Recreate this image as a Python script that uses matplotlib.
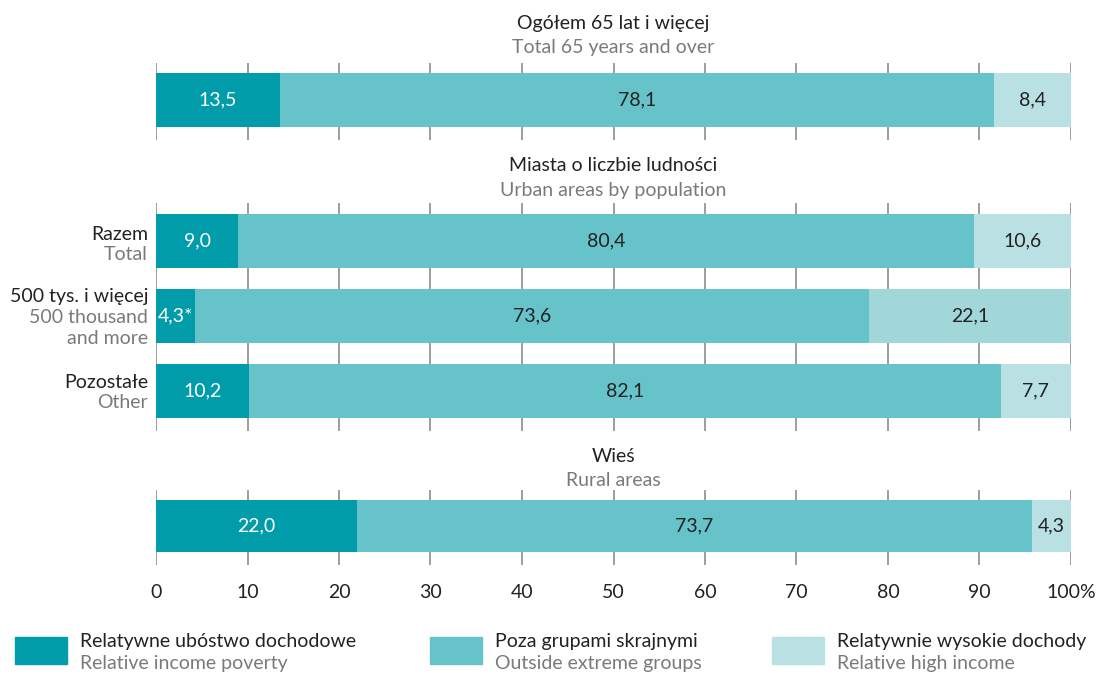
import matplotlib.pyplot as plt

# ---------------- DATA ----------------
TOTAL_LABEL = ("Ogółem 65 lat i więcej", "Total 65 years and over")
URBAN_LABEL = ("Miasta o liczbie ludności", "Urban areas by population")
RURAL_LABEL = ("Wieś", "Rural areas")

urban_rows_pl = ["Razem", "500 tys. i więcej", "Pozostałe"]
urban_rows_en = ["Total", "500 thousand\nand more", "Other"]

poverty_total = [13.5]
middle_total = [78.1]
high_total = [8.4]

poverty_urban = [9.0, 4.3, 10.2]
middle_urban = [80.4, 73.6, 82.1]
high_urban = [10.6, 22.1, 7.7]

poverty_rural = [22.0]
middle_rural = [73.7]
high_rural = [4.3]

value_notes = {(1, 1): "*"}  # panel, row -> suffix (4,3*)

series_pl = ["Relatywne ubóstwo dochodowe", "Poza grupami skrajnymi",
             "Relatywnie wysokie dochody"]
series_en = ["Relative income poverty", "Outside extreme groups",
             "Relative high income"]

x_ticks = list(range(0, 101, 10))
x_ticklabels = [str(t) for t in x_ticks[:-1]] + ["100%"]
# --------------------------------------

W, H = 1105, 674
COLORS = ["#019CA9", "#67C3CA", "#B9E1E3"]
ODD_HIGH = "#A2D7DA"
GRAY = "#7A7A7A"
DARK = "#222222"
FONT = "Lato"
FS = 14

plt.rcParams["font.family"] = [FONT, "DejaVu Sans"]

fig = plt.figure(figsize=(W / 100, H / 100), dpi=100)


def fx(x):
    return x / W


def fy(y):
    return 1 - y / H


def add_panel(top, bottom, n):
    ax = fig.add_axes([fx(156), fy(bottom), fx(1071) - fx(156),
                       (bottom - top) / H])
    ax.set_xlim(0, 100)
    ax.set_ylim(n - 1 + 0.54, -0.5)
    ax.set_xticks(x_ticks)
    ax.set_yticks([])
    ax.grid(axis="x", color="#8C8C8C", linewidth=1.2)
    ax.set_axisbelow(True)
    for s in ax.spines.values():
        s.set_visible(False)
    ax.tick_params(axis="x", length=0, labelbottom=False)
    return ax


def draw_bars(ax, panel, pov, mid, high):
    rows = range(len(pov))
    h = 0.72
    ax.barh(rows, pov, height=h, color=COLORS[0])
    ax.barh(rows, mid, left=pov, height=h, color=COLORS[1])
    lefts = [p + m for p, m in zip(pov, mid)]
    cols = [ODD_HIGH if (panel == 1 and i == 1) else COLORS[2] for i in rows]
    ax.barh(rows, high, left=lefts, height=h, color=cols)
    for i in rows:
        segs = [(0, pov[i], "white"), (pov[i], mid[i], DARK),
                (lefts[i], high[i], DARK)]
        for k, (l, w, c) in enumerate(segs):
            txt = f"{w:.1f}".replace(".", ",")
            if k == 0:
                txt += value_notes.get((panel, i), "")
            ax.text(l + w / 2, i, txt, ha="center", va="center",
                    color=c, fontsize=FS)


def panel_title(y, labels):
    fig.text(fx(613.5), fy(y), labels[0], ha="center", va="center",
             fontsize=FS, color=DARK)
    fig.text(fx(613.5), fy(y + 24), labels[1], ha="center", va="center",
             fontsize=FS, color=GRAY)


panel_title(23, TOTAL_LABEL)
ax1 = add_panel(63, 140, 1)
draw_bars(ax1, 0, poverty_total, middle_total, high_total)

panel_title(166, URBAN_LABEL)
ax2 = add_panel(203, 431, 3)
draw_bars(ax2, 1, poverty_urban, middle_urban, high_urban)

panel_title(456, RURAL_LABEL)
ax3 = add_panel(490, 565, 1)
draw_bars(ax3, 2, poverty_rural, middle_rural, high_rural)
ax3.tick_params(axis="x", labelbottom=True, pad=14, labelsize=FS,
                labelcolor=DARK)
ax3.set_xticklabels(x_ticklabels)

# row labels for urban panel
row_tops = [234, 297, 382]
for i, (pl, en) in enumerate(zip(urban_rows_pl, urban_rows_en)):
    fig.text(fx(148), fy(row_tops[i]), pl, ha="right", va="center",
             fontsize=FS, color=DARK)
    fig.text(fx(148), fy(row_tops[i] + 12), en, ha="right", va="top",
             fontsize=FS, color=GRAY, linespacing=1.25)

# legend
leg_x = [15, 430, 772]
for i in range(3):
    fig.patches.append(plt.Rectangle((fx(leg_x[i]), fy(664)), 52 / W,
                                     27 / H, transform=fig.transFigure,
                                     color=COLORS[i]))
    fig.text(fx(leg_x[i] + 65), fy(641), series_pl[i], ha="left",
             va="center", fontsize=FS, color=DARK)
    fig.text(fx(leg_x[i] + 65), fy(664), series_en[i], ha="left",
             va="center", fontsize=FS, color=GRAY)

fig.savefig("out.png", dpi=100)
